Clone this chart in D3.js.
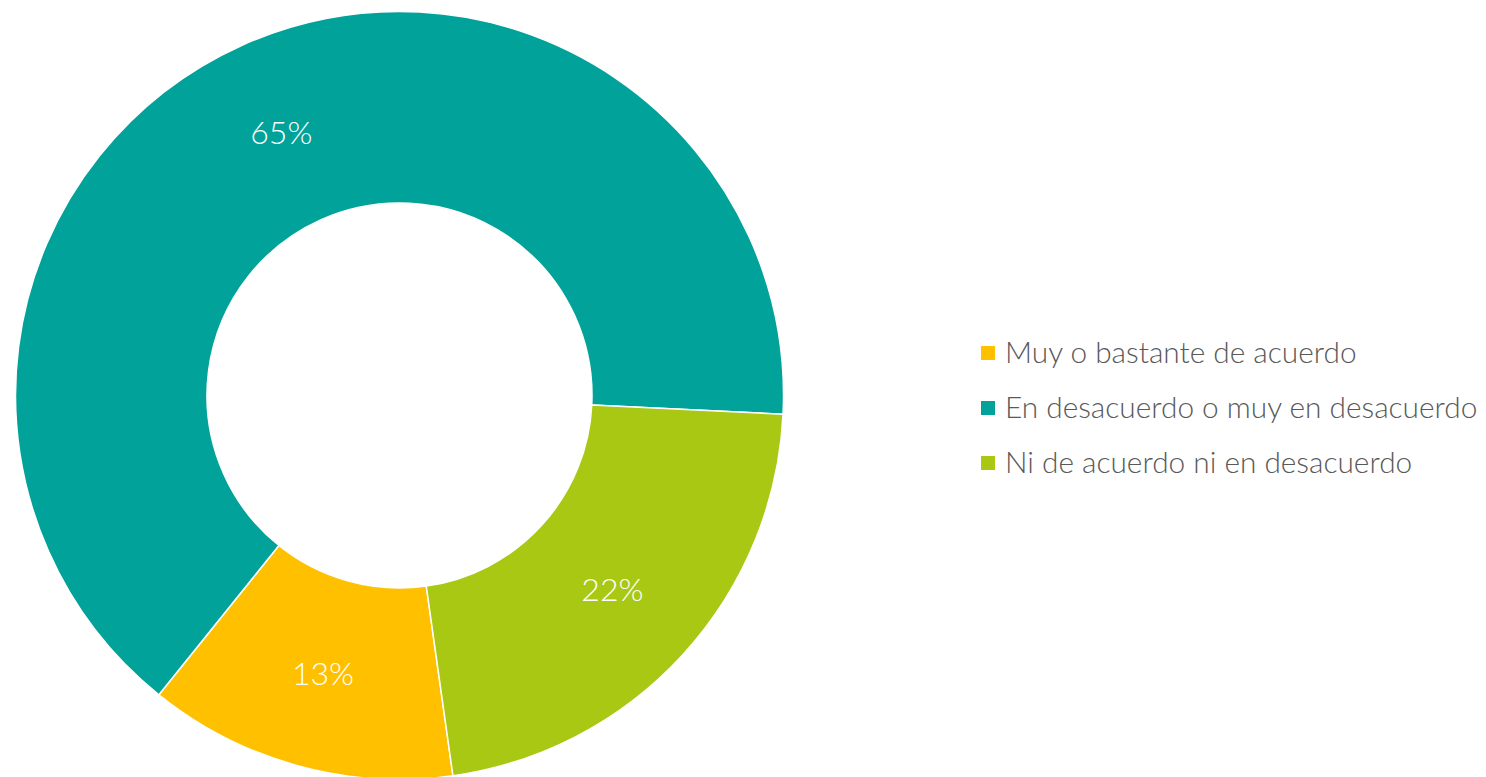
<!DOCTYPE html>
<html>
<head>
<meta charset="utf-8">
<script src="https://cdn.jsdelivr.net/npm/d3@7"></script>
<style>
  html, body { margin: 0; padding: 0; background: #ffffff; }
  svg { display: block; }
</style>
</head>
<body>
<svg id="chart" width="1486" height="777"></svg>
<script>
const categories = ["Muy o bastante de acuerdo", "En desacuerdo o muy en desacuerdo", "Ni de acuerdo ni en desacuerdo"];
const values = [13, 65, 22];
const colors = ["#FFC000", "#00A29A", "#A8C814"];

const W = 1486, H = 777;
const cx = 399.5, cy = 395.5;
const outerR = 384, innerR = 192.5;
const startDeg = 172;
const FONT = "Lato, 'Open Sans', 'Noto Sans', sans-serif";

const svg = d3.select("#chart");

const pie = d3.pie()
  .sort(null)
  .value(d => d)
  .startAngle(startDeg * Math.PI / 180)
  .endAngle(startDeg * Math.PI / 180 + 2 * Math.PI);

const arc = d3.arc().innerRadius(innerR).outerRadius(outerR);
const labelArc = d3.arc().innerRadius((innerR + outerR) / 2).outerRadius((innerR + outerR) / 2);

const g = svg.append("g").attr("transform", `translate(${cx},${cy})`);
const arcs = pie(values);

g.selectAll("path.slice")
  .data(arcs)
  .join("path")
  .attr("class", "slice")
  .attr("d", arc)
  .attr("fill", (d, i) => colors[i])
  .attr("stroke", "#ffffff")
  .attr("stroke-width", 1.5)
  .attr("stroke-linejoin", "round");

g.selectAll("text.pct")
  .data(arcs)
  .join("text")
  .attr("class", "pct")
  .attr("transform", d => `translate(${labelArc.centroid(d)})`)
  .attr("text-anchor", "middle")
  .attr("dy", "0.36em")
  .attr("fill", "#ffffff")
  .style("font-family", FONT)
  .style("font-weight", 300)
  .style("font-size", "32px")
  .text(d => d.data + "%");

// legend
const legend = svg.append("g").attr("transform", "translate(981,353)");
const rowH = 55;
const items = legend.selectAll("g.item")
  .data(categories)
  .join("g")
  .attr("class", "item")
  .attr("transform", (d, i) => `translate(0,${i * rowH})`);

items.append("rect")
  .attr("x", 0).attr("y", -7)
  .attr("width", 14).attr("height", 14)
  .attr("fill", (d, i) => colors[i]);

items.append("text")
  .attr("x", 24)
  .attr("y", 10)
  .attr("fill", "#595959")
  .style("font-family", FONT)
  .style("font-weight", 300)
  .style("font-size", "29.8px")
  .text(d => d);
</script>
</body>
</html>
